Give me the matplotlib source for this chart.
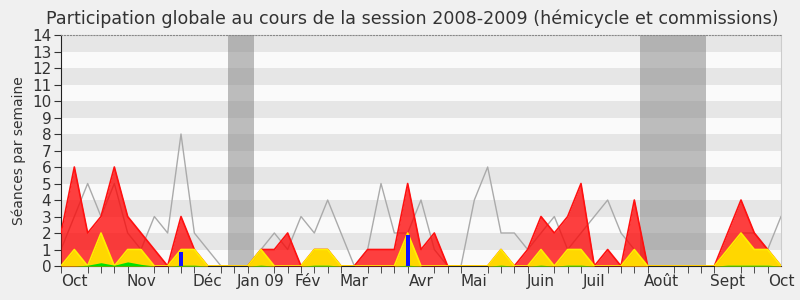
import matplotlib
matplotlib.use('Agg')
import matplotlib.pyplot as plt
import numpy as np

# one value per week, from early Oct 2008 to early Oct 2009
total = [2, 6, 2, 3, 6, 3, 2, 1, 0, 3, 1, 0, 0, 0, 0, 1, 1, 2, 0, 1,
         1, 0, 0, 1, 1, 1, 5, 1, 2, 0, 0, 0, 0, 1, 0, 1, 3, 2, 3, 5,
         0, 1, 0, 4, 0, 0, 0, 0, 0, 0, 2, 4, 2, 1, 0]
commission = [0, 1, 0, 2, 0, 1, 1, 0, 0, 1, 1, 0, 0, 0, 0, 1, 0, 0, 0, 1,
              1, 0, 0, 0, 0, 0, 2, 0, 0, 0, 0, 0, 0, 1, 0, 0, 1, 0, 1, 1,
              0, 0, 0, 1, 0, 0, 0, 0, 0, 0, 1, 2, 1, 1, 0]
interventions = [0, 0, 0.05, 0.2, 0.05, 0.25, 0.1, 0, 0, 0.05, 0.05, 0, 0, 0, 0, 0.05, 0, 0, 0, 0.05,
                 0.05, 0, 0, 0, 0, 0, 0.05, 0, 0, 0, 0, 0, 0, 0.05, 0, 0, 0.05, 0, 0.05, 0.05,
                 0, 0, 0, 0, 0, 0, 0, 0, 0, 0, 0.05, 0.05, 0.05, 0.05, 0]
mediane = [1, 3, 5, 3, 5, 2, 1, 3, 2, 8, 2, 1, 0, 0, 0, 1, 2, 1, 3, 2,
           4, 2, 0, 1, 5, 2, 2, 4, 1, 0, 0, 4, 6, 2, 2, 1, 2, 3, 1, 2,
           3, 4, 2, 1, 0, 0, 0, 0, 0, 0, 1, 2, 2, 1, 3]
questions_weeks = [9, 26]
questions = [0.85, 1.9]
vacances = [(12.5, 14.5), (43.4, 48.4)]

month_pos = [1, 6, 11, 15, 18.5, 22, 27, 31, 36, 40, 45, 50, 54]
month_labels = ['Oct', 'Nov', 'Déc', 'Jan 09', 'Fév', 'Mar', 'Avr', 'Mai',
                'Juin', 'Juil', 'Août', 'Sept', 'Oct']

weeks = np.arange(len(total))

fig = plt.figure(figsize=(8, 3), dpi=100, facecolor='#f0f0f0')
ax = fig.add_axes([0.07625, 0.1133, 0.9, 0.77])
ax.set_facecolor('#fafafa')

for k in range(1, 14, 2):
    ax.axhspan(k, k + 1, color='#e6e6e6', lw=0, zorder=0)
for a, b in vacances:
    ax.axvspan(a, b, color='#808080', alpha=0.5, lw=0, zorder=1)

ax.plot(weeks, mediane, color='#aaaaaa', lw=1, zorder=2)
ax.fill_between(weeks, total, color='#ff0000', alpha=0.75, lw=0, zorder=3)
ax.plot(weeks, total, color='#ff1010', lw=1.2, zorder=3)
ax.fill_between(weeks, commission, color='#ffd700', lw=0, zorder=4)
ax.plot(weeks, commission, color='#ffee00', lw=1.2, zorder=4)
ax.fill_between(weeks, interventions, color='#00e000', lw=0, zorder=5)
ax.bar(questions_weeks, questions, width=0.3, color='#1010ff', zorder=6)

ax.set_xlim(0, 54)
ax.set_ylim(0, 14)
ax.set_yticks(range(15))
ax.set_xticks(weeks, minor=True)
ax.set_xticks(month_pos)
ax.set_xticklabels(month_labels)
ax.tick_params(axis='x', which='major', length=0, labelsize=11, colors='#333333', pad=6)
ax.tick_params(axis='x', which='minor', length=5, direction='out', color='#333333')
ax.tick_params(axis='y', length=5, direction='out', labelsize=11, colors='#333333', pad=2)
ax.set_ylabel('Séances par semaine', fontsize=10, color='#333333', labelpad=4)

ax.spines['top'].set_linestyle(':')
ax.spines['top'].set_color('#888888')
ax.spines['right'].set_color('#cccccc')
ax.spines['left'].set_color('#222222')
ax.spines['bottom'].set_color('#222222')

fig.text(0.515, 0.937, 'Participation globale au cours de la session 2008-2009 (hémicycle et commissions)',
         ha='center', va='center', fontsize=12.6, color='#333333')

fig.savefig('out.png', dpi=100, facecolor=fig.get_facecolor())
